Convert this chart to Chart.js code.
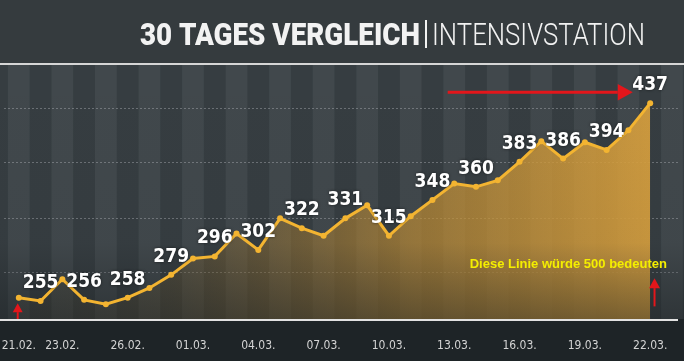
<!DOCTYPE html>
<html>
<head>
<meta charset="utf-8">
<script src="https://cdn.jsdelivr.net/npm/chart.js@4.4.1/dist/chart.umd.min.js"></script>
<style>
    html, body { margin: 0; padding: 0; background: #1e2427; }
    #box { width: 684px; height: 361px; }
</style>
</head>
<body>
<div id="box"><canvas id="intensiv"></canvas></div>
<script>
// 30 Tage Intensivstation, 21.02. - 22.03.
const dates = ['21.02.', '22.02.', '23.02.', '24.02.', '25.02.', '26.02.', '27.02.', '28.02.',
    '01.03.', '02.03.', '03.03.', '04.03.', '05.03.', '06.03.', '07.03.', '08.03.', '09.03.', '10.03.',
    '11.03.', '12.03.', '13.03.', '14.03.', '15.03.', '16.03.', '17.03.', '18.03.', '19.03.', '20.03.',
    '21.03.', '22.03.'];
const patients = [258, 255, 275, 256, 252, 258, 267, 279, 294, 296, 317, 302, 331, 322, 315,
    331, 343, 315, 333, 348, 363, 360, 366, 383, 402, 386, 401, 394, 412, 437];
const tickDays = [0, 2, 5, 8, 11, 14, 17, 20, 23, 26, 29];    // welche Daten unten stehen
const labelDays = [1, 3, 5, 7, 9, 11, 13, 15, 17, 19, 21, 23, 25, 27, 29];  // Zahlen über der Linie
const gridValues = [281, 331, 382, 432];

const titleBold = '30 TAGES VERGLEICH';
const titleThin = 'INTENSIVSTATION';
const noteText = 'Diese Linie würde 500 bedeuten';

const narrow = '"Liberation Sans Narrow", "DejaVu Sans Condensed", Roboto, sans-serif';

function squeezed(ctx, text, font, x, y, width) {
    ctx.font = font;
    let w = ctx.measureText(text).width;
    ctx.save();
    ctx.translate(x, y);
    ctx.scale(width / w, 1);
    ctx.fillText(text, 0, 0);
    ctx.restore();
}

function arrow(ctx, x1, y1, x2, y2, head) {
    let a = Math.atan2(y2 - y1, x2 - x1);
    ctx.beginPath();
    ctx.moveTo(x1, y1);
    ctx.lineTo(x2 - Math.cos(a) * head, y2 - Math.sin(a) * head);
    ctx.stroke();
    ctx.beginPath();
    ctx.moveTo(x2, y2);
    ctx.lineTo(x2 - Math.cos(a) * head - Math.sin(a) * head * 0.55, y2 - Math.sin(a) * head + Math.cos(a) * head * 0.55);
    ctx.lineTo(x2 - Math.cos(a) * head + Math.sin(a) * head * 0.55, y2 - Math.sin(a) * head - Math.cos(a) * head * 0.55);
    ctx.closePath();
    ctx.fill();
}

const tvLook = {
    id: 'tvLook',
    beforeDraw(chart) {
        const {ctx, chartArea: ca, scales: {x}} = chart;
        ctx.save();
        ctx.fillStyle = '#1e2427';
        ctx.fillRect(0, 0, chart.width, chart.height);
        ctx.fillStyle = '#353b3e';
        ctx.fillRect(0, 0, chart.width, ca.top);
        ctx.fillStyle = '#3b4347';
        ctx.fillRect(0, ca.top, ca.right + 4, ca.bottom - ca.top);
        // Streifen pro Tag
        for (let i = -1; i < 32; i++) {
            let l = x.getPixelForValue(i - 0.5), r = x.getPixelForValue(i + 0.5);
            ctx.fillStyle = i % 2 ? 'rgba(0,0,0,0.08)' : 'rgba(255,255,255,0.03)';
            ctx.fillRect(l, ca.top, r - l, ca.bottom - ca.top);
        }
        // Titel
        ctx.fillStyle = '#f2f2f2';
        ctx.textBaseline = 'alphabetic';
        squeezed(ctx, titleBold, '900 32px Roboto, sans-serif', 140, 45, 280);
        ctx.fillRect(425, 20, 2, 28);
        squeezed(ctx, titleThin, '300 32px Roboto, sans-serif', 432, 45, 213);
        ctx.fillStyle = '#d6d6d6';
        ctx.fillRect(0, ca.top - 2, chart.width, 2);
        ctx.restore();
    },
    beforeDatasetDraw(chart) {
        const {ctx, chartArea: ca} = chart;
        let g = ctx.createLinearGradient(0, ca.top, 0, ca.bottom);
        g.addColorStop(0, 'rgba(25,30,32,0)');
        g.addColorStop(0.7, 'rgba(25,30,32,0.04)');
        g.addColorStop(1, 'rgba(25,30,32,0.45)');
        ctx.save();
        ctx.fillStyle = g;
        ctx.fillRect(0, ca.top, ca.right + 4, ca.bottom - ca.top);
        ctx.restore();
    },
    afterDatasetsDraw(chart) {
        const {ctx, chartArea: ca, scales: {x, y}} = chart;
        ctx.save();
        // Zahlen
        ctx.font = 'bold 19px ' + narrow;
        ctx.textAlign = 'center';
        ctx.textBaseline = 'middle';
        ctx.fillStyle = '#ffffff';
        ctx.shadowColor = 'rgba(0,0,0,0.6)';
        ctx.shadowBlur = 3;
        labelDays.forEach(i => {
            ctx.fillText(String(patients[i]), x.getPixelForValue(i), y.getPixelForValue(patients[i]) - 18);
        });
        ctx.shadowBlur = 0;
        // weiße Grundlinie
        ctx.fillStyle = '#e2e2e2';
        ctx.fillRect(0, ca.bottom, ca.right - 2, 2);
        // rote Pfeile
        ctx.strokeStyle = '#e3161b';
        ctx.fillStyle = '#e3161b';
        ctx.lineWidth = 3;
        arrow(ctx, x.getPixelForValue(19.7), y.getPixelForValue(447), x.getPixelForValue(28.2), y.getPixelForValue(447), 15);
        ctx.lineWidth = 2;
        arrow(ctx, x.getPixelForValue(29.2), y.getPixelForValue(250), x.getPixelForValue(29.2), y.getPixelForValue(276), 10);
        arrow(ctx, x.getPixelForValue(-0.05), ca.bottom, x.getPixelForValue(-0.05), y.getPixelForValue(253), 9);
        // gelber Hinweis
        ctx.font = 'bold 13px "Liberation Sans", Arial, sans-serif';
        ctx.textAlign = 'right';
        ctx.textBaseline = 'alphabetic';
        ctx.fillStyle = '#f4ee00';
        ctx.fillText(noteText, x.getPixelForValue(29.77), y.getPixelForValue(285.5));
        ctx.restore();
    }
};

new Chart(document.querySelector('#intensiv'), {
    type: 'line',
    data: {
        datasets: [{
            data: patients.map((v, i) => ({x: i, y: v})),
            borderColor: '#f3b431',
            borderWidth: 3,
            pointRadius: 3,
            pointBackgroundColor: '#f3b431',
            pointBorderWidth: 0,
            tension: 0,
            fill: 'start',
            backgroundColor: (context) => {
                const ca = context.chart.chartArea;
                if (!ca) return 'rgba(0,0,0,0)';
                let g = context.chart.ctx.createLinearGradient(ca.left, 0, ca.right, 0);
                g.addColorStop(0, 'rgba(120,95,40,0.08)');
                g.addColorStop(0.25, 'rgba(160,118,45,0.22)');
                g.addColorStop(0.6, 'rgba(198,145,52,0.66)');
                g.addColorStop(0.95, 'rgba(216,160,62,0.92)');
                return g;
            }
        }]
    },
    options: {
        responsive: true,
        maintainAspectRatio: false,
        animation: false,
        layout: {padding: {left: -4, right: 0, top: 0, bottom: 0}},
        plugins: {
            legend: {display: false},
            tooltip: {enabled: false}
        },
        scales: {
            x: {
                type: 'linear',
                min: -0.68,
                max: 30.37,
                afterBuildTicks: (scale) => { scale.ticks = tickDays.map(v => ({value: v})); },
                afterFit: (scale) => {
                    scale.height = 42;
                    scale.paddingLeft = 0;
                    scale.paddingRight = 0;
                },
                ticks: {
                    callback: (v) => dates[v],
                    color: '#d4d4d4',
                    font: {family: narrow, size: 12},
                    padding: 12,
                    maxRotation: 0,
                    autoSkip: false
                },
                grid: {display: false},
                border: {display: false}
            },
            y: {
                min: 238.4,
                max: 472.1,
                afterBuildTicks: (scale) => { scale.ticks = gridValues.map(v => ({value: v})); },
                afterFit: (scale) => {
                    scale.width = 0;
                    scale.paddingTop = 65;
                    scale.paddingBottom = 0;
                },
                ticks: {display: false},
                grid: {color: 'rgba(205,210,215,0.35)', lineWidth: 1, drawTicks: false},
                border: {display: false, dash: [2, 2]}
            }
        }
    },
    plugins: [tvLook]
});
</script>
</body>
</html>
